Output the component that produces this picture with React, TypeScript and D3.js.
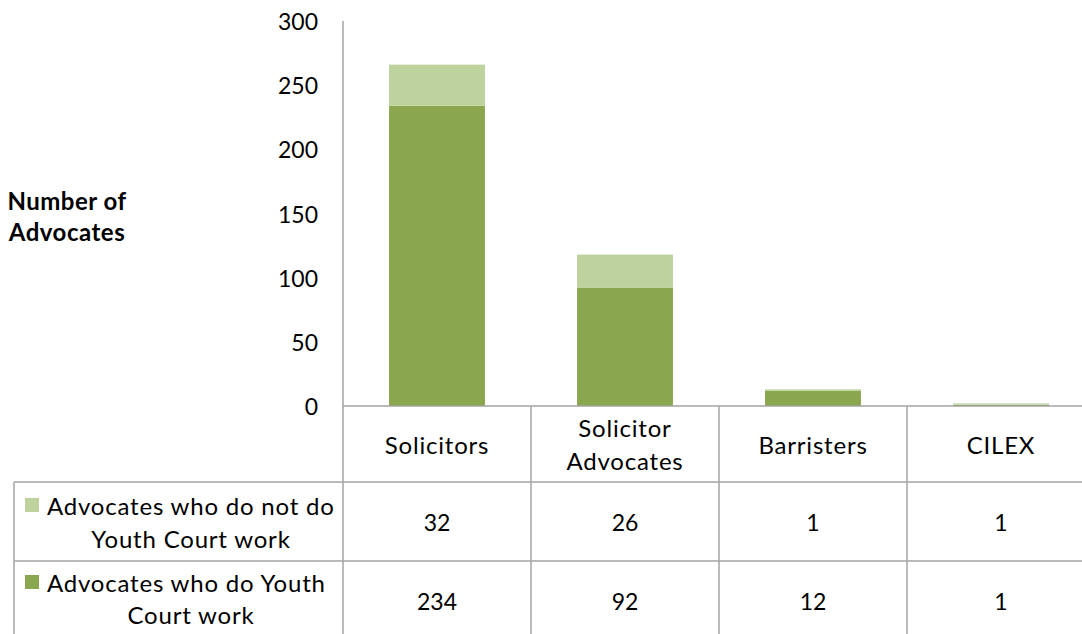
import React from "react";
import * as d3 from "d3";

const categories = ["Solicitors", "Solicitor Advocates", "Barristers", "CILEX"];
const categoryLines = [["Solicitors"], ["Solicitor", "Advocates"], ["Barristers"], ["CILEX"]];
const doYouth = [234, 92, 12, 1];
const doNotYouth = [32, 26, 1, 1];
const seriesNames = ["Advocates who do not do Youth Court work", "Advocates who do Youth Court work"];
const seriesLines = [["Advocates who do not do", "Youth Court work"], ["Advocates who do Youth", "Court work"]];
const yTicks = [0, 50, 100, 150, 200, 250, 300];

const DARK = "#8aa64e";
const LIGHT = "#bdd29d";
const GRID = "#a3a3a3";
const FONT = "Lato, 'Open Sans', sans-serif";

export default function App() {
  const W = 1082, H = 634;
  const x0 = 343, step = 188;
  const y = d3.scaleLinear().domain([0, 300]).range([406, 21]);
  const x = d3.scaleBand<string>().domain(categories).range([x0, x0 + step * categories.length]).padding(0);
  const barW = x.bandwidth() * 0.51;

  const data = categories.map((c, i) => ({ cat: c, doYouth: doYouth[i], doNotYouth: doNotYouth[i] }));
  const stack = d3.stack<any>().keys(["doYouth", "doNotYouth"]);
  const layers = stack(data);
  const colors = { doYouth: DARK, doNotYouth: LIGHT } as any;

  const rowTop = 406, row1 = 482, row2 = 561, rowBottom = 640;
  const tableRight = x0 + step * categories.length;
  const rowValues = [doNotYouth, doYouth];
  const rowColors = [LIGHT, DARK];
  const rowYs = [[row1, row2], [row2, rowBottom]];
  const wordStyle = { fontSize: 24, letterSpacing: 0.8 } as any;

  return (
    <svg width={W} height={H} style={{ position: "absolute", left: 0, top: 0, background: "#fff" }} fontFamily={FONT}>
      {layers.map((layer) =>
        layer.map((d, i) => (
          <rect
            key={layer.key + i}
            x={(x(categories[i]) as number) + (x.bandwidth() - barW) / 2}
            y={y(d[1])}
            width={barW}
            height={Math.max(0, y(d[0]) - y(d[1]))}
            fill={colors[layer.key]}
          />
        ))
      )}
      {yTicks.map((t) => (
        <text key={t} x={318} y={y(t)} textAnchor="end" dominantBaseline="central" fontSize={23} fill="#000">
          {t}
        </text>
      ))}
      <text x={67} y={200} textAnchor="middle" dominantBaseline="central" fontSize={24} letterSpacing={0.5} fontWeight="bold">Number of</text>
      <text x={67} y={231} textAnchor="middle" dominantBaseline="central" fontSize={24} letterSpacing={0.5} fontWeight="bold">Advocates</text>

      <g stroke={GRID} strokeWidth={1.5} fill="none">
        <line x1={x0} y1={21} x2={x0} y2={H} />
        <line x1={x0} y1={rowTop} x2={tableRight} y2={rowTop} />
        <line x1={14} y1={row1} x2={tableRight} y2={row1} />
        <line x1={14} y1={row2} x2={tableRight} y2={row2} />
        <line x1={14} y1={row1} x2={14} y2={H} />
        {categories.map((c) => (
          <line key={c} x1={(x(c) as number) + x.bandwidth()} y1={rowTop} x2={(x(c) as number) + x.bandwidth()} y2={H} />
        ))}
      </g>

      {categories.map((c, i) => {
        const cx = (x(c) as number) + x.bandwidth() / 2;
        const lines = categoryLines[i];
        const mid = (rowTop + row1) / 2;
        return lines.map((l, j) => (
          <text key={c + j} x={cx} y={mid + (j - (lines.length - 1) / 2) * 33} textAnchor="middle" dominantBaseline="central" style={wordStyle}>
            {l}
          </text>
        ));
      })}

      {rowValues.map((vals, r) => {
        const [a, b] = rowYs[r];
        const mid = r === 0 ? (a + b) / 2 : 601;
        return (
          <g key={seriesNames[r]}>
            <rect x={25} y={(r === 0 ? 505 : 582) - 7} width={14} height={14} fill={rowColors[r]} />
            <text x={47} y={r === 0 ? 505 : 582} dominantBaseline="central" style={wordStyle}>{seriesLines[r][0]}</text>
            <text x={191} y={r === 0 ? 538 : 614} textAnchor="middle" dominantBaseline="central" style={wordStyle}>{seriesLines[r][1]}</text>
            {vals.map((v, i) => (
              <text key={i} x={(x(categories[i]) as number) + x.bandwidth() / 2} y={mid} textAnchor="middle" dominantBaseline="central" fontSize={23}>
                {v}
              </text>
            ))}
          </g>
        );
      })}
    </svg>
  );
}
